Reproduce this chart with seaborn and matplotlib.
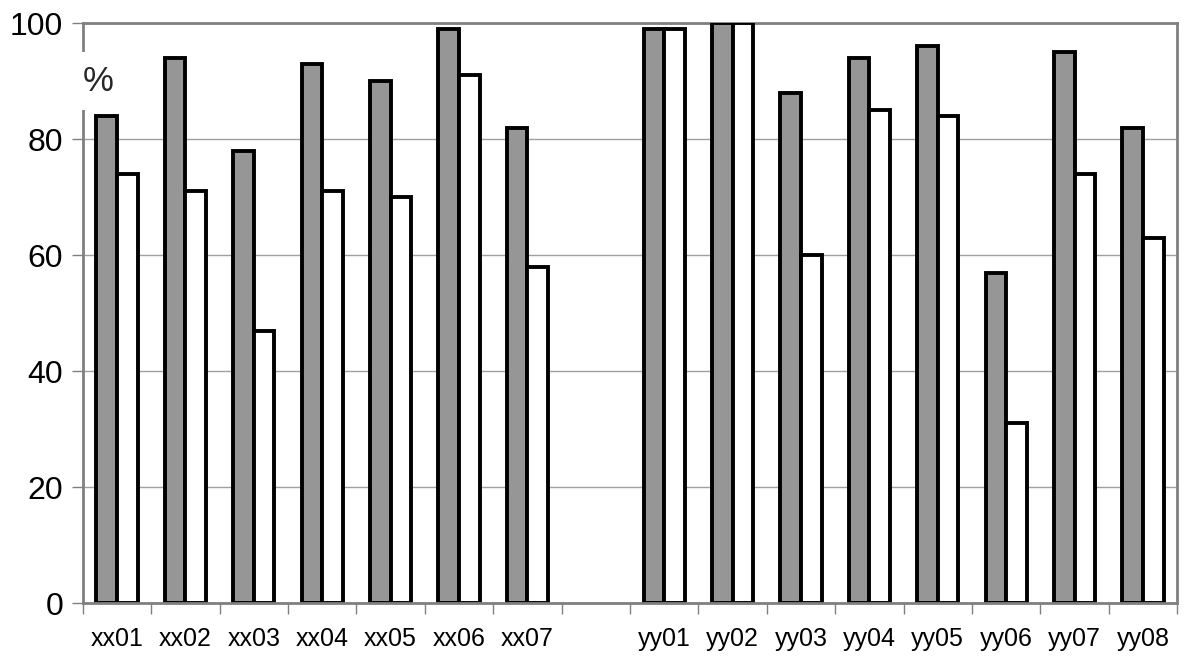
import matplotlib
matplotlib.use("Agg")
import matplotlib.pyplot as plt
import seaborn as sns
import pandas as pd
import numpy as np

categories = ["xx01", "xx02", "xx03", "xx04", "xx05", "xx06", "xx07", "",
              "yy01", "yy02", "yy03", "yy04", "yy05", "yy06", "yy07", "yy08"]
data_cats = ["xx01", "xx02", "xx03", "xx04", "xx05", "xx06", "xx07",
             "yy01", "yy02", "yy03", "yy04", "yy05", "yy06", "yy07", "yy08"]
series_a = [84, 94, 78, 93, 90, 99, 82, 99, 100, 88, 94, 96, 57, 95, 82]
series_b = [74, 71, 47, 71, 70, 91, 58, 99, 100, 60, 85, 84, 31, 74, 63]
series_names = ["A", "B"]
y_ticks = [0, 20, 40, 60, 80, 100]

df = pd.DataFrame({
    "cat": data_cats * 2,
    "val": series_a + series_b,
    "series": [series_names[0]] * len(data_cats) + [series_names[1]] * len(data_cats),
})

sns.set_theme(style="white")
plt.rcParams["font.family"] = ["Liberation Sans", "DejaVu Sans"]

fig = plt.figure(figsize=(12, 6.63), dpi=100)
ax = fig.add_axes([0.069, 0.09, 0.912, 0.875])

sns.barplot(data=df, x="cat", y="val", hue="series", order=categories,
            hue_order=series_names, palette=["#969696", "#ffffff"],
            edgecolor="black", linewidth=2.8, width=0.6, saturation=1,
            legend=False, ax=ax, zorder=3)

n = len(categories)
ax.set_xlim(-0.5, n - 0.5)
ax.set_ylim(0, 100)
ax.set_xlabel("")
ax.set_ylabel("")

# x ticks: boundaries as major ticks, labels at centers as minor
ax.set_xticks(np.arange(-0.5, n, 1.0))
ax.set_xticklabels([])
ax.set_xticks(np.arange(n), minor=True)
ax.set_xticklabels(categories, minor=True)
ax.tick_params(axis="x", which="major", length=8, width=1, color="#808080",
               direction="out", bottom=True)
ax.tick_params(axis="x", which="minor", length=0, labelsize=18, pad=17,
               labelcolor="black", bottom=True)

ax.set_yticks(y_ticks)
ax.set_yticklabels([str(t) for t in y_ticks])
ax.tick_params(axis="y", length=8, width=1, color="#808080", direction="out",
               labelsize=23, pad=6, left=True, labelcolor="black")

ax.grid(axis="y", color="#a0a0a0", linewidth=1, zorder=0)
ax.grid(axis="x", visible=False)

for side in ["left", "right", "top", "bottom"]:
    ax.spines[side].set_visible(True)
    ax.spines[side].set_color("#808080")
    ax.spines[side].set_linewidth(2)
ax.spines["bottom"].set_zorder(4)

ax.text(0.0, 0.9, "%", transform=ax.transAxes, fontsize=25, ha="left",
        va="center", zorder=5,
        bbox=dict(facecolor="white", edgecolor="none", pad=9))

fig.savefig("out.png", dpi=100, facecolor="white")
